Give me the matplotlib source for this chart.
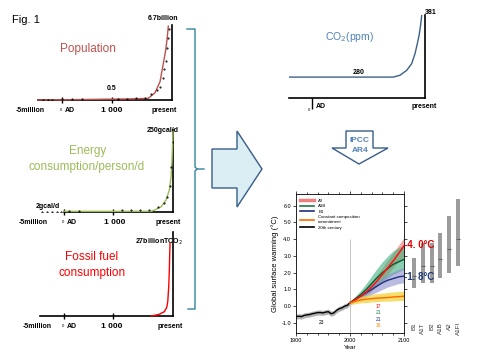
import numpy as np
import matplotlib
matplotlib.use('Agg')
import matplotlib.pyplot as plt
from matplotlib.patches import Polygon
from matplotlib.lines import Line2D

plt.rcParams['font.family'] = ['Liberation Sans', 'DejaVu Sans']

W, H = 481, 361

# long timeline: -5 million years, AD, 1000, present (drawn on a squeezed axis)
tl_years = [-5e6, 0, 1000, 2007]
tl_pos = [0, 24, 74, 134]

pop_years = [-5e6, 0, 1000, 1302, 1609, 1722, 1806, 1861, 1901, 1928, 1945]
pop_vals = [0.0, 0.02, 0.08, 0.1, 0.15, 0.66, 1.66, 3.3, 4.5, 5.7, 6.7]
pop_obs_years = [-4e6, -3e6, -2e6, 0, 200, 400, 1100, 1250, 1400, 1550,
                 1650, 1750, 1800, 1850, 1880, 1900, 1920, 1940, 1955]
pop_obs_vals = [0, 0, 0, 0.05, 0.05, 0.05, 0.12, 0.13, 0.14, 0.2,
                0.5, 0.9, 1.2, 2.0, 2.8, 3.5, 4.7, 5.6, 6.4]

en_years = [0, 1638, 1693, 1806, 1889, 1946, 1974, 1990, 2002, 2007]
en_vals = [2, 2, 6, 16, 37, 68, 109, 160, 222, 248]
en_obs_years = [-4.5e6, -3.5e6, -2.5e6, -1.5e6, -0.5e6, 100, 300, 1150, 1300,
                1450, 1600, 1750, 1850, 1900, 1950, 1980, 2000]
en_obs_vals = [1, 1, 1, 1, 1, 3, 3, 5, 5, 5, 6, 14, 28, 45, 80, 140, 215]

fos_years = [1638, 1772, 1861, 1901, 1918, 1935, 1945, 1952, 1957]
fos_vals = [0, 0.6, 1.6, 3.2, 5.3, 10.9, 17, 23.3, 27]

co2_years = [-408, 1444, 1563, 1682, 1771, 1829, 1870, 1906, 1931, 1948]
co2_vals = [280, 280, 283, 291, 302, 318, 334, 350, 366, 380]

# IPCC AR4 projections
hist_years = [1900, 1905, 1910, 1915, 1920, 1925, 1930, 1935, 1940, 1945, 1950,
              1955, 1960, 1965, 1970, 1975, 1980, 1985, 1990, 1995, 2000]
hist_vals = [-0.62, -0.6, -0.62, -0.55, -0.52, -0.5, -0.45, -0.42, -0.38, -0.38, -0.4,
             -0.35, -0.33, -0.45, -0.4, -0.25, -0.15, -0.1, 0.0, 0.05, 0.22]
proj_years = [2000, 2010, 2020, 2030, 2040, 2050, 2060, 2070, 2080, 2090, 2100]
a2 = [0.2, 0.4, 0.6, 0.85, 1.15, 1.5, 1.9, 2.3, 2.7, 3.15, 3.6]
a2_hi = [0.3, 0.55, 0.8, 1.1, 1.45, 1.85, 2.3, 2.75, 3.2, 3.65, 4.1]
a2_lo = [0.1, 0.3, 0.45, 0.65, 0.9, 1.2, 1.55, 1.9, 2.3, 2.65, 3.0]
a1b = [0.2, 0.45, 0.7, 1.0, 1.35, 1.7, 2.0, 2.25, 2.5, 2.65, 2.8]
a1b_hi = [0.3, 0.6, 0.95, 1.35, 1.8, 2.25, 2.65, 3.0, 3.3, 3.5, 3.65]
a1b_lo = [0.1, 0.3, 0.5, 0.7, 0.95, 1.2, 1.45, 1.7, 1.9, 2.05, 2.2]
b1 = [0.2, 0.4, 0.6, 0.8, 1.0, 1.2, 1.4, 1.55, 1.65, 1.75, 1.8]
b1_hi = [0.3, 0.5, 0.75, 1.0, 1.25, 1.5, 1.7, 1.9, 2.05, 2.2, 2.3]
b1_lo = [0.1, 0.25, 0.4, 0.55, 0.7, 0.85, 1.0, 1.15, 1.25, 1.35, 1.4]
cc = [0.2, 0.3, 0.37, 0.42, 0.45, 0.48, 0.5, 0.52, 0.55, 0.57, 0.6]
cc_hi = [0.3, 0.5, 0.58, 0.65, 0.7, 0.75, 0.78, 0.82, 0.85, 0.88, 0.9]
cc_lo = [0.1, 0.15, 0.2, 0.22, 0.25, 0.27, 0.3, 0.3, 0.32, 0.33, 0.35]

scen = ['B1', 'A1T', 'B2', 'A1B', 'A2', 'A1FI']
scen_lo = [1.1, 1.4, 1.4, 1.7, 2.0, 2.4]
scen_hi = [2.9, 3.8, 3.8, 4.4, 5.4, 6.4]
scen_best = [1.8, 2.4, 2.4, 2.8, 3.4, 4.0]


def box(x0, y0, x1, y1):
    return [x0 / W, 1 - y1 / H, (x1 - x0) / W, (y1 - y0) / H]


fig = plt.figure(figsize=(W / 100, H / 100), dpi=100)

ov = fig.add_axes([0, 0, 1, 1])
ov.set_xlim(0, W)
ov.set_ylim(H, 0)
ov.axis('off')


def timeline(x0, y0, x1, y1, ymax):
    a = fig.add_axes(box(x0, y0, x1, y1))
    a.patch.set_visible(False)
    a.spines['top'].set_visible(False)
    a.spines['left'].set_visible(False)
    a.spines['bottom'].set_linewidth(1.2)
    a.spines['right'].set_linewidth(1.2)
    a.set_xscale('function', functions=(lambda v: np.interp(v, tl_years, tl_pos),
                                        lambda p: np.interp(p, tl_pos, tl_years)))
    a.set_xlim(-5e6, 2007)
    a.set_ylim(0, ymax)
    a.set_xticks([0, 1000], ['', ''])
    a.set_xticks([], minor=True)
    a.set_yticks([])
    a.tick_params(axis='x', direction='inout', length=5, width=1)
    return a


# population
ax1 = timeline(38, 25, 172, 100, 6.8)
ax1.plot(pop_years, pop_vals, color='#C0504D', lw=1, zorder=3, clip_on=False)
ax1.plot(pop_obs_years, pop_obs_vals, ls='none', marker='.', ms=1.0, color='black', zorder=4)

# energy
ax2 = timeline(40, 130, 173, 212, 253)
ax2.spines['bottom'].set_bounds(0, 2007)
ax2.plot(en_years, en_vals, color='#9BBB59', lw=1, zorder=3, clip_on=False)
ax2.plot(en_obs_years, en_obs_vals, ls='none', marker='.', ms=1.0, color='black', zorder=4)

# fossil fuel
ax3 = timeline(40, 232, 173, 316, 31.1)
ax3.plot(fos_years, fos_vals, color='red', lw=1, zorder=3, clip_on=False)

# CO2
ax4 = fig.add_axes(box(289, 15, 425, 98))
ax4.patch.set_visible(False)
ax4.spines['top'].set_visible(False)
ax4.spines['left'].set_visible(False)
ax4.spines['bottom'].set_linewidth(1.2)
ax4.spines['right'].set_linewidth(1.2)
ax4.set_xlim(-408, 2007)
ax4.set_ylim(246, 381)
ax4.set_xticks([0], [''])
ax4.set_yticks([])
ax4.tick_params(axis='x', direction='out', length=8, width=1)
ax4.plot(co2_years, co2_vals, color='#3D5F8C', lw=1, zorder=3)

# IPCC chart
ax5 = fig.add_axes(box(296, 194, 404, 333))
ax5.set_zorder(3)
ax5.set_xlim(1900, 2100)
ax5.set_ylim(-1.6, 6.7)
ax5.set_xticks([1900, 2000, 2100])
ax5.set_xticks(np.arange(1900, 2101, 20), minor=True)
ax5.set_yticks(np.arange(-1, 7), [f'{v:.1f}' for v in np.arange(-1, 7)])
ax5.tick_params(which='both', direction='out', top=True, right=True,
                labelsize=4, length=2, width=0.5, pad=1.5)
ax5.tick_params(which='minor', length=1.2)
for s in ax5.spines.values():
    s.set_linewidth(0.6)
ax5.set_ylabel('Global surface warming (°C)', fontsize=5.5, labelpad=2)
ax5.set_xlabel('Year', fontsize=4.5, labelpad=1.5)
ax5.vlines(2000, -1.6, 4.0, color='#BBBBBB', lw=0.6)
ax5.fill_between(hist_years, np.array(hist_vals) - 0.15, np.array(hist_vals) + 0.15,
                 color='#808080', alpha=0.6, lw=0)
ax5.fill_between(proj_years, a2_lo, a2_hi, color='#F08A8A', alpha=0.7, lw=0)
ax5.fill_between(proj_years, a1b_lo, a1b_hi, color='#3DB07A', alpha=0.6, lw=0)
ax5.fill_between(proj_years, b1_lo, b1_hi, color='#8C8FCC', alpha=0.6, lw=0)
ax5.fill_between(proj_years, cc_lo, cc_hi, color='#F2D33A', alpha=0.75, lw=0)
ax5.plot(hist_years, hist_vals, color='black', lw=1)
ax5.plot(proj_years, b1, color='#1F2E80', lw=1)
ax5.plot(proj_years, a1b, color='#0E5A30', lw=1)
ax5.plot(proj_years, a2, color='#FF1010', lw=1.1)
ax5.plot(proj_years, cc, color='#FF6A00', lw=1)
handles = [Line2D([], [], color='#F08080', lw=2.5),
           Line2D([], [], color='#1E7B45', lw=1.2),
           Line2D([], [], color='#1F2E80', lw=1.2),
           Line2D([], [], color='#FF6A00', lw=1.2),
           Line2D([], [], color='black', lw=1.2)]
ax5.legend(handles, ['A2', 'A1B', 'B1', 'Constant composition\ncommitment', '20th century'],
           loc='upper left', fontsize=3.2, frameon=False, handlelength=3,
           labelspacing=0.35, borderaxespad=0.6, handletextpad=1)
ax5.text(1948, -1.0, '23', fontsize=3.5, ha='center', va='center')
for txt, yv, c in [('17', 0.0, 'red'), ('21', -0.37, '#1E7B45'),
                   ('21', -0.78, '#1F2E80'), ('16', -1.15, '#FF8C00')]:
    ax5.text(2052, yv, txt, fontsize=3.5, ha='center', va='center', color=c)
ax5.text(2100, 3.65, '-4. 0°C', color='#E00000', fontsize=7, fontweight='bold',
         ha='left', va='center', clip_on=False)
ax5.text(2100, 1.72, '-1. 8°C', color='#1F3A7A', fontsize=7, fontweight='bold',
         ha='left', va='center', clip_on=False)

ax6 = fig.add_axes(box(408, 194, 464, 333))
ax6.set_zorder(1)
ax6.set_xlim(-0.68, 5.68)
ax6.set_ylim(-1.6, 6.7)
ax6.axis('off')
pos = np.arange(len(scen))
ax6.bar(pos, np.array(scen_hi) - np.array(scen_lo), bottom=scen_lo, width=0.45,
        color='#9C9C9C', lw=0)
ax6.hlines(scen_best, pos - 0.225, pos + 0.225, color='#666666', lw=0.8)
for i, s in enumerate(scen):
    ax6.text(i, -0.95, s, rotation=90, ha='center', va='top', fontsize=4.5, color='#333333')

# overlay: arrows, bracket, labels
ov.plot([187, 195, 195, 197, 204], [29, 29, 167, 169, 169], color='#31859C', lw=1)
ov.plot([197, 195, 195, 188], [169, 171, 309, 309], color='#31859C', lw=1)
ov.add_patch(Polygon([(212, 149), (237, 149), (237, 131), (262, 169), (237, 207),
                      (237, 188), (212, 188)], closed=True, fc='#DAEEF3', ec='#385D8A', lw=1))
ov.add_patch(Polygon([(346, 131), (373, 131), (373, 148), (388, 148), (359, 164),
                      (332, 148), (346, 148)], closed=True, fc='white', ec='#385D8A', lw=1))
ov.text(360, 140, 'IPCC', color='#4F81BD', fontsize=6, fontweight='bold', ha='center', va='center')
ov.text(360, 150, 'AR4', color='#4F81BD', fontsize=6, fontweight='bold', ha='center', va='center')

ov.text(12, 20, 'Fig. 1', fontsize=8, va='center', ha='left')

sm = dict(fontsize=5, fontweight='bold', ha='center', va='center')
big = dict(fontsize=6, fontweight='bold', ha='center', va='center')


def axis_labels(y, x_m5, x_ad, x_k, x_p):
    ov.text(x_m5, y, '-5million', **sm)
    ov.text(x_ad - 4, y, '0', fontsize=3, ha='center', va='center')
    ov.text(x_ad, y, 'AD', fontsize=5, fontweight='bold', ha='left', va='center')
    ov.text(x_k, y, '1 000', **big)
    ov.text(x_p, y, 'present', **sm)


ov.text(88, 49, 'Population', color='#C0504D', fontsize=8.5, ha='center', va='center')
ov.text(163, 18, '6.7billion', **sm)
ov.text(112, 89, '0.5', **sm)
axis_labels(110, 30, 65, 112, 164)

ov.text(88, 151, 'Energy', color='#9BBB59', fontsize=8.5, ha='center', va='center')
ov.text(87, 167, 'consumption/person/d', color='#9BBB59', fontsize=8.5, ha='center', va='center')
ov.text(163, 130, '250gcal/d', **sm)
ov.text(48, 207, '2gcal/d', **sm)
axis_labels(222, 33, 67, 115, 168)

ov.text(92, 257, 'Fossil fuel', color='red', fontsize=8.5, ha='center', va='center')
ov.text(92, 273, 'consumption', color='red', fontsize=8.5, ha='center', va='center')
ov.text(159, 242, '27billionTCO$_2$', **sm)
axis_labels(326, 37, 67, 112, 170)

ov.text(350, 37, 'CO$_2$(ppm)', color='#4F81BD', fontsize=7.5, ha='center', va='center')
ov.text(431, 13, '381', **sm)
ov.text(359, 72, '280', **sm)
ov.text(309, 110, '0', fontsize=3, ha='center', va='center')
ov.text(316, 107, 'AD', fontsize=5, fontweight='bold', ha='left', va='center')
ov.text(424, 107, 'present', **sm)

fig.savefig('out.png', dpi=100)
